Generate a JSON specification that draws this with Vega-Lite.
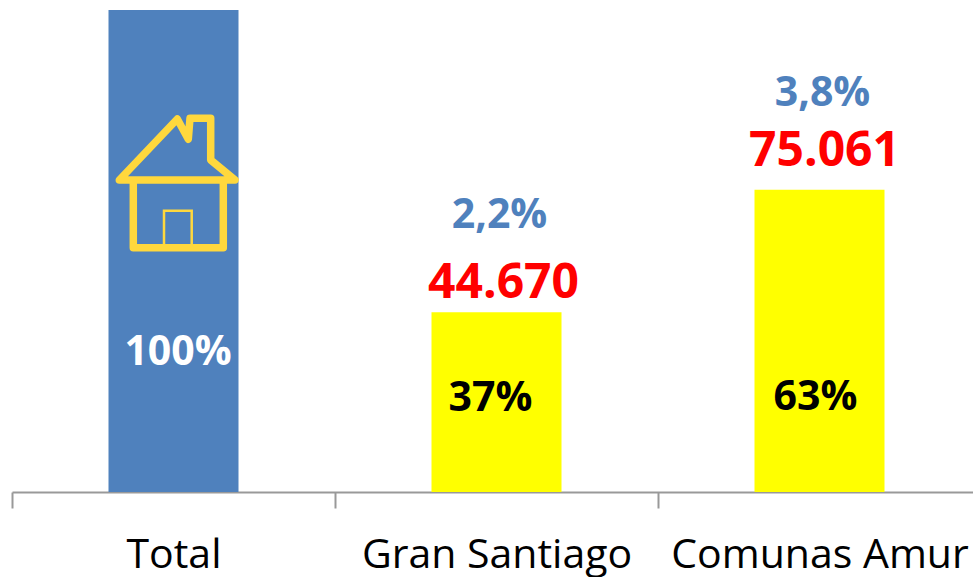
{
"$schema":"https://vega.github.io/schema/vega-lite/v6.json",
"width":969,"height":482,
"autosize":{"type":"none"},
"padding":{"left":12,"top":10,"right":0,"bottom":85},
"background":"white",
"config":{"view":{"stroke":null},"font":"Open Sans"},
"data":{"values":[
{"categoria":"Total","viviendas":119731,"etiqueta":"","tasa":"","participacion":"100%"},
{"categoria":"Gran Santiago","viviendas":44670,"etiqueta":"44.670","tasa":"2,2%","participacion":"37%"},
{"categoria":"Comunas Amur","viviendas":75061,"etiqueta":"75.061","tasa":"3,8%","participacion":"63%"}
]},
"encoding":{
"x":{"field":"categoria","type":"nominal","sort":null,"title":null,
"scale":{"paddingInner":0,"paddingOuter":0},
"axis":{"labelAngle":0,"tickBand":"extent","domainColor":"#999999","domainWidth":2,"tickColor":"#999999","tickWidth":2,"tickSize":16,"labelFontSize":41,"labelColor":"#000000","labelPadding":27,"labelFont":"Open Sans","labelLimit":340,"grid":false}},
"y":{"field":"viviendas","type":"quantitative","title":null,"scale":{"domain":[0,119731]},"axis":null}
},
"layer":[
{"mark":{"type":"bar","size":130},
"encoding":{"color":{"field":"categoria","type":"nominal","legend":null,"scale":{"domain":["Total","Gran Santiago","Comunas Amur"],"range":["#4F81BD","#FFFF00","#FFFF00"]}}}},
{"transform":[{"filter":"datum.categoria === 'Gran Santiago'"}],
"mark":{"type":"text","font":"Open Sans","fontWeight":"bold","fontSize":48,"color":"#FF0000","baseline":"middle","dy":-28,"dx":7},
"encoding":{"text":{"field":"etiqueta"}}},
{"transform":[{"filter":"datum.categoria === 'Comunas Amur'"}],
"mark":{"type":"text","font":"Open Sans","fontWeight":"bold","fontSize":48,"color":"#FF0000","baseline":"middle","dy":-38,"dx":5},
"encoding":{"text":{"field":"etiqueta"}}},
{"mark":{"type":"text","font":"Open Sans","fontWeight":"bold","fontSize":41,"color":"#4F81BD","baseline":"middle","dy":-96,"dx":3},
"encoding":{"text":{"field":"tasa"}}},
{"transform":[{"filter":"datum.categoria === 'Gran Santiago'"}],
"mark":{"type":"text","font":"Open Sans","fontWeight":"bold","fontSize":41,"color":"#000000","baseline":"middle","dx":-6,"dy":2},
"encoding":{"y":{"datum":23700},"text":{"field":"participacion"}}},
{"transform":[{"filter":"datum.categoria === 'Comunas Amur'"}],
"mark":{"type":"text","font":"Open Sans","fontWeight":"bold","fontSize":41,"color":"#000000","baseline":"middle","dx":-4,"dy":1},
"encoding":{"y":{"datum":23700},"text":{"field":"participacion"}}},
{"transform":[{"filter":"datum.categoria === 'Total'"}],
"mark":{"type":"text","font":"Open Sans","fontWeight":"bold","fontSize":41,"color":"#FFFFFF","baseline":"middle","dx":4.5,"dy":2},
"encoding":{"y":{"datum":35000},"text":{"field":"participacion"}}},
{"transform":[{"filter":"datum.categoria === 'Total'"}],
"mark":{"type":"point","filled":false,"size":40000,"opacity":1,"stroke":"#FFD83D","strokeWidth":7.5,"strokeJoin":"round","strokeCap":"round",
"shape":"M-0.542,-0.03L0.038,-0.64L0.148,-0.437L0.165,-0.647L0.372,-0.647L0.372,-0.23L0.615,-0.03ZM-0.402,-0.03L-0.402,0.647L0.498,0.647L0.498,-0.03"},
"encoding":{"y":{"datum":76757}}},
{"transform":[{"filter":"datum.categoria === 'Total'"}],
"mark":{"type":"point","filled":false,"size":40000,"opacity":1,"stroke":"#FFD83D","strokeWidth":2.5,
"shape":"M-0.095,0.64L-0.095,0.277L0.182,0.277L0.182,0.64"},
"encoding":{"y":{"datum":76757}}}
]
}
